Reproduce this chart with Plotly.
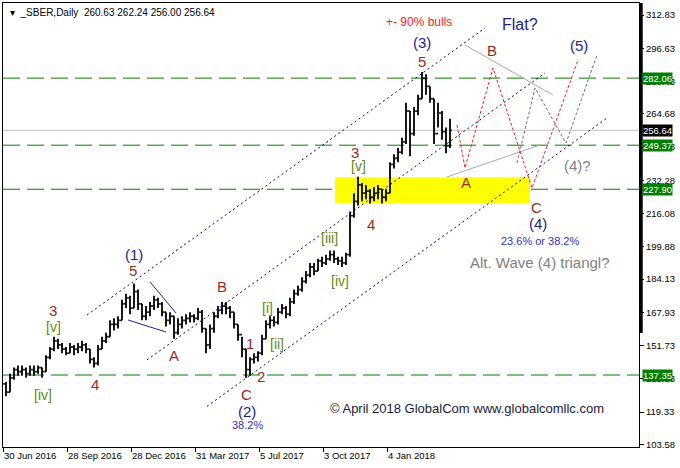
import plotly.graph_objects as go

# ---------------- data ----------------
# grouped price bars (about four trading days each), bar index axis
bar_close = [133, 129, 136, 140, 139, 140, 138, 140, 139, 141, 139, 146, 150, 154, 152, 150,
             148, 151, 150, 151, 152, 150, 145, 143, 150, 154, 156, 162, 162, 164, 172, 175,
             170, 178, 172, 166, 168, 171, 174, 172, 168, 164, 166, 158, 162, 164, 165, 166,
             165, 168, 160, 152, 160, 166, 169, 171, 170, 168, 162, 157, 150, 140, 145, 146,
             148, 155, 162, 164, 163, 168, 170, 167, 173, 177, 179, 183, 186, 190, 188, 193,
             192, 194, 196, 194, 193, 192, 196, 215, 222, 230, 226, 227, 224, 226, 228, 224,
             226, 240, 243, 246, 251, 266, 255, 266, 272, 282, 278, 272, 255, 265, 256, 249,
             256.64]
bar_high = [137, 134, 138, 141, 142, 142, 141, 142, 142, 142, 141, 147, 151, 156, 155, 153,
            151, 153, 152, 153, 154, 153, 150, 146, 152, 156, 158, 164, 165, 166, 174, 177,
            176, 182, 179, 172, 171, 173, 176, 175, 173, 168, 168, 166, 165, 166, 167, 168,
            167, 170, 169, 160, 162, 168, 171, 173, 173, 171, 168, 162, 156, 150, 146, 148,
            149, 157, 164, 166, 166, 170, 172, 171, 175, 179, 181, 185, 188, 192, 192, 194,
            195, 196, 198, 198, 195, 195, 197, 217, 226, 234, 231, 230, 228, 229, 230, 228,
            228, 241, 245, 248, 253, 270, 266, 268, 274, 285, 284, 278, 272, 270, 266, 258,
            262.24]
bar_low = [130, 127, 129, 135, 137, 137, 136, 137, 137, 138, 136, 139, 145, 149, 150, 148,
           147, 148, 147, 148, 149, 148, 143, 141, 142, 150, 153, 156, 159, 160, 164, 170,
           167, 170, 169, 164, 164, 166, 169, 170, 166, 161, 162, 155, 157, 160, 162, 163,
           163, 164, 158, 148, 150, 158, 165, 167, 167, 165, 160, 154, 146, 136, 137, 143,
           144, 147, 155, 160, 161, 162, 167, 165, 166, 172, 176, 178, 182, 185, 186, 188,
           190, 191, 193, 192, 191, 190, 191, 195, 214, 220, 222, 223, 221, 222, 223, 221,
           222, 226, 238, 241, 245, 250, 244, 254, 264, 272, 274, 270, 250, 258, 252, 245.5,
           248]
first_open = 134
bars_per_group = 4

date_tick_pos = [3, 67, 131, 195, 259, 323, 387]
date_tick_text = ["30 Jun 2016", "28 Sep 2016", "28 Dec 2016", "31 Mar 2017",
                  "5 Jul 2017", "3 Oct 2017", "4 Jan 2018"]
price_ticks = [312.83, 296.63, 280.43, 264.68, 248.48, 232.28, 216.08, 199.88,
               184.13, 167.93, 151.73, 135.53, 119.33, 103.58]

levels = [282.06, 249.37, 227.90, 137.35]
bid = 256.64
header = "▾  _SBER,Daily  260.63 262.24 256.00 256.64"

zone_x = [335, 530]
zone_y = [221.1, 233.8]

channel_upper = ([87, 485], [166.6, 306.5])
channel_mid = ([147, 545], [144.7, 284.6])
channel_low = ([207, 607], [122.1, 262.6])
wedge_a = ([128, 166], [164.2, 158.3])
wedge_b = ([150, 176], [182.7, 167.6])
tri_upper = ([465, 553], [298.2, 273.8])
tri_lower = ([447, 540], [233.9, 249.5])
flat_path = ([457, 465, 493, 532, 578], [259.2, 238.3, 287.0, 228.5, 290.9])
tri_path = ([517, 535, 566, 597], [240.7, 277.3, 250.4, 293.3])

BROWN = "#9a2a1a"
NAVY = "#22228a"
OLIVE = "#5e8a14"
BLUE = "#3030c0"
GREY = "#808080"

labels = [
    (53, 169.0, "3", BROWN, 15), (53, 160.8, "[v]", OLIVE, 14), (95, 132.5, "4", BROWN, 15),
    (43, 127.6, "[iv]", OLIVE, 14), (134, 196.3, "(1)", NAVY, 15), (133, 188.5, "5", BROWN, 15),
    (174, 147.1, "A", BROWN, 15), (222, 180.3, "B", BROWN, 15), (246, 128.1, "C", BROWN, 15),
    (247, 119.8, "(2)", NAVY, 15), (247, 113.0, "38.2%", BLUE, 11), (250, 152.9, "1", BROWN, 15),
    (261, 136.4, "2", BROWN, 15), (267, 170.0, "[i]", OLIVE, 14), (277, 152.5, "[ii]", OLIVE, 14),
    (329, 204.1, "[iii]", OLIVE, 14), (340, 183.2, "[iv]", OLIVE, 14), (355, 246.0, "3", BROWN, 15),
    (358, 239.2, "[v]", OLIVE, 14), (371, 210.5, "4", BROWN, 15), (422, 299.2, "(3)", NAVY, 15),
    (422, 290.4, "5", BROWN, 15), (419, 309.4, "+- 90% bulls", "#ff2020", 12),
    (466, 231.0, "A", BROWN, 15), (492, 295.3, "B", BROWN, 15), (520, 308.4, "Flat?", NAVY, 16),
    (579, 298.2, "(5)", NAVY, 15), (577, 239.7, "(4)?", GREY, 15), (536, 219.2, "C", BROWN, 15),
    (538, 211.4, "(4)", NAVY, 15), (540, 202.7, "23.6% or 38.2%", BLUE, 11),
    (540, 192.4, "Alt. Wave (4) triangl?", GREY, 15),
    (467, 120.8, "© April 2018 GlobalCom www.globalcomllc.com", "#1a1a3a", 13),
]

# ---------------- figure ----------------
bar_x = [bars_per_group * i + 2 for i in range(len(bar_close))]
bar_open = [first_open] + bar_close[:-1]

fig = go.Figure()

fig.add_trace(go.Ohlc(
    x=bar_x, open=bar_open, high=bar_high, low=bar_low, close=bar_close,
    increasing=dict(line=dict(color="black", width=1.8)),
    decreasing=dict(line=dict(color="black", width=1.8)),
    tickwidth=0.45, hoverinfo="skip", showlegend=False,
))

def add_line(pts, color, dash, width=1):
    fig.add_trace(go.Scatter(x=pts[0], y=pts[1], mode="lines",
                             line=dict(color=color, dash=dash, width=width),
                             hoverinfo="skip", showlegend=False))

for ch in (channel_upper, channel_mid, channel_low):
    add_line(ch, "#000080", "2px,3px")
for w in (wedge_a, wedge_b):
    add_line(w, "#1c1c9a", "solid")
for t in (tri_upper, tri_lower):
    add_line(t, "#a8a8a8", "solid")
add_line(flat_path, "#ff1a1a", "3px,2px")
add_line(tri_path, "#707070", "3px,2px")

shapes = [dict(type="rect", xref="x", yref="y", x0=zone_x[0], x1=zone_x[1],
               y0=zone_y[0], y1=zone_y[1], fillcolor="#ffff00", line=dict(width=0),
               layer="below")]
shapes.append(dict(type="line", xref="paper", yref="y", x0=0, x1=1, y0=bid, y1=bid,
                   line=dict(color="#c0c0c0", width=1), layer="below"))
for lv in levels:
    shapes.append(dict(type="line", xref="paper", yref="y", x0=0, x1=1, y0=lv, y1=lv,
                       line=dict(color="#008000", width=1, dash="17px,7px"), layer="below"))
shapes.append(dict(type="line", xref="paper", yref="paper", x0=1.0035, x1=1.0035,
                   y0=0.257, y1=1, line=dict(color="black", width=3)))

annotations = []
for x, y, txt, col, sz in labels:
    annotations.append(dict(x=x, y=y, xref="x", yref="y", text=txt, showarrow=False,
                            font=dict(color=col, size=sz, family="Liberation Sans"),
                            xanchor="center", yanchor="middle"))

for lv in levels:
    annotations.append(dict(x=1, y=lv, xref="paper", yref="y", text=f"{lv:.2f}",
                            showarrow=False, xanchor="left", yanchor="middle", xshift=3,
                            bgcolor="#008000", borderpad=0,
                            font=dict(color="white", size=9.5, family="Liberation Sans")))
annotations.append(dict(x=1, y=bid, xref="paper", yref="y", text=f"{bid:.2f}",
                        showarrow=False, xanchor="left", yanchor="middle", xshift=3,
                        bgcolor="black", borderpad=0,
                        font=dict(color="white", size=9.5, family="Liberation Sans")))
annotations.append(dict(x=0.008, y=0.995, xref="paper", yref="paper", text=header,
                        showarrow=False, xanchor="left", yanchor="top",
                        font=dict(color="black", size=10, family="Liberation Sans")))

fig.update_layout(
    width=680, height=468,
    margin=dict(l=3, r=41, t=3, b=21),
    paper_bgcolor="white", plot_bgcolor="white",
    showlegend=False,
    font=dict(family="Liberation Sans", color="black"),
    shapes=shapes, annotations=annotations,
    xaxis=dict(range=[3, 639], showgrid=False, zeroline=False, showline=True,
               linecolor="black", linewidth=1, mirror=True, ticks="outside", ticklen=4,
               tickcolor="black", tickvals=date_tick_pos, ticktext=date_tick_text,
               ticklabelposition="outside right",
               tickfont=dict(size=9.5, color="black"), rangeslider=dict(visible=False),
               fixedrange=True),
    yaxis=dict(range=[102.27, 318.68], side="right", showgrid=False, zeroline=False,
               showline=True, linecolor="black", linewidth=1, mirror=True,
               ticks="outside", ticklen=4, tickcolor="black", tickvals=price_ticks,
               ticktext=[f"{v:.2f}" for v in price_ticks],
               tickfont=dict(size=9.5, color="black"), fixedrange=True),
)

fig.write_html("out.html", config={"displayModeBar": False},
               post_script="document.body.style.margin='0px';")
